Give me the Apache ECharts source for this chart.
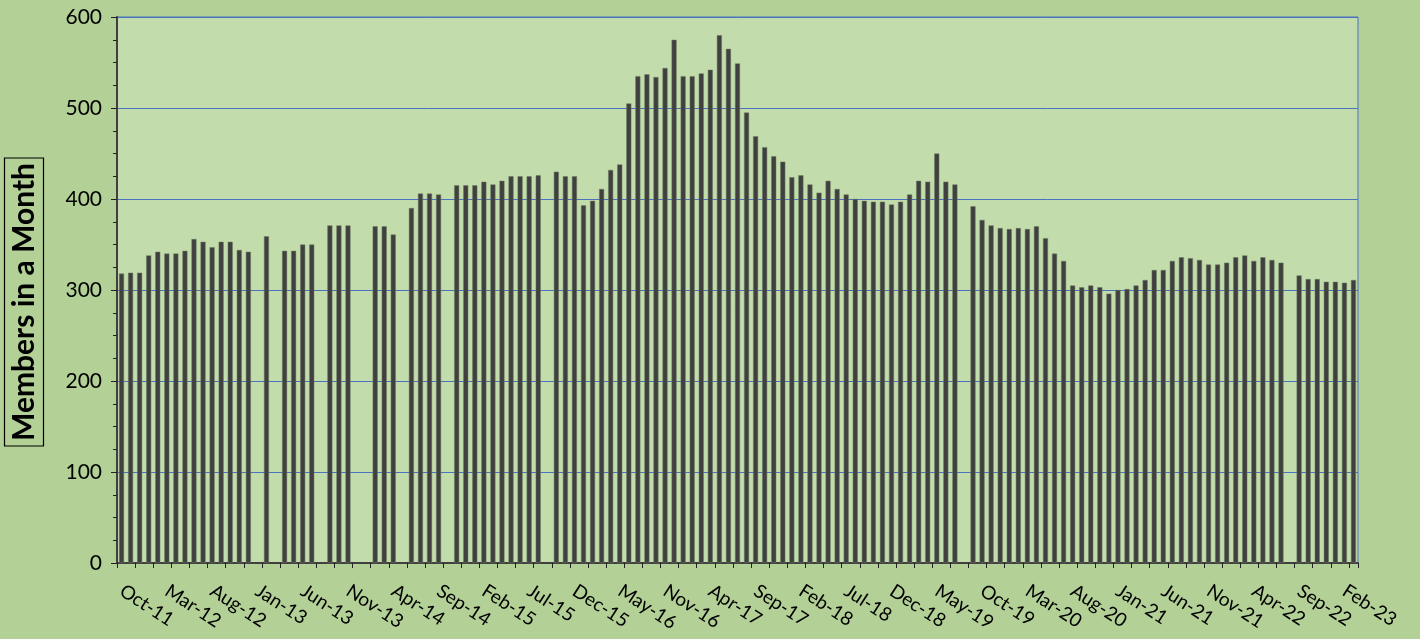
<!DOCTYPE html>
<html>
<head>
<meta charset="utf-8">
<script src="https://cdn.jsdelivr.net/npm/echarts@6/dist/echarts.min.js"></script>
<style>
  html, body { margin: 0; padding: 0; background: #b3d097; }
  #chart { width: 1420px; height: 639px; }
</style>
</head>
<body>
<div id="chart"></div>
<script>
// month labels as they appear in the sheet (one month of 2016 is absent, Mar-23 is the last row)
var months = [
  "Oct-11","Nov-11","Dec-11",
  "Jan-12","Feb-12","Mar-12","Apr-12","May-12","Jun-12","Jul-12","Aug-12","Sep-12","Oct-12","Nov-12","Dec-12",
  "Jan-13","Feb-13","Mar-13","Apr-13","May-13","Jun-13","Jul-13","Aug-13","Sep-13","Oct-13","Nov-13","Dec-13",
  "Jan-14","Feb-14","Mar-14","Apr-14","May-14","Jun-14","Jul-14","Aug-14","Sep-14","Oct-14","Nov-14","Dec-14",
  "Jan-15","Feb-15","Mar-15","Apr-15","May-15","Jun-15","Jul-15","Aug-15","Sep-15","Oct-15","Nov-15","Dec-15",
  "Jan-16","Feb-16","Mar-16","Apr-16","May-16","Jun-16","Jul-16","Aug-16","Sep-16","Nov-16","Dec-16",
  "Jan-17","Feb-17","Mar-17","Apr-17","May-17","Jun-17","Jul-17","Aug-17","Sep-17","Oct-17","Nov-17","Dec-17",
  "Jan-18","Feb-18","Mar-18","Apr-18","May-18","Jun-18","Jul-18","Aug-18","Sep-18","Oct-18","Nov-18","Dec-18",
  "Jan-19","Feb-19","Mar-19","Apr-19","May-19","Jun-19","Jul-19","Aug-19","Sep-19","Oct-19","Nov-19","Dec-19",
  "Jan-20","Feb-20","Mar-20","Apr-20","May-20","Jun-20","Jul-20","Aug-20","Sep-20","Oct-20","Nov-20","Dec-20",
  "Jan-21","Feb-21","Mar-21","Apr-21","May-21","Jun-21","Jul-21","Aug-21","Sep-21","Oct-21","Nov-21","Dec-21",
  "Jan-22","Feb-22","Mar-22","Apr-22","May-22","Jun-22","Jul-22","Aug-22","Sep-22","Oct-22","Nov-22","Dec-22",
  "Jan-23","Feb-23","Mar-23"
];

// members per month, null = no figure for that month
var members = [
  318, 319, 319,
  338, 342, 340, 340, 343, 356, 353, 347, 353, 353, 344, 342,
  null, 359, null, 343, 343, 350, 350, null, 371, 371, 371, null,
  null, 370, 370, 361, null, 390, 406, 406, 405, null, 415, 415,
  415, 419, 416, 420, 425, 425, 425, 426, null, 430, 425, 425,
  393, 398, 411, 432, 438, 505, 535, 537, 534, 544, 575,
  535, 535, 538, 542, 580, 565, 549, 495, 469, 457, 447, 441,
  424, 426, 416, 407, 420, 411, 405, 400, 398, 397, 397, 394,
  397, 405, 420, 419, 450, 419, 416, null, 392, 377, 371, 368,
  367, 368, 367, 370, 357, 340, 332, 305, 303, 305, 303, 296,
  300, 301, 305, 311, 322, 322, 332, 336, 335, 333, 328, 328,
  330, 336, 338, 332, 336, 333, 330, null, 316, 312, 312, 309,
  309, 308, 311
];

var yTicks = [0, 100, 200, 300, 400, 500, 600];
var yTitle = 'Members in a Month';

var chart = echarts.init(document.getElementById('chart'));

var option = {
  backgroundColor: '#b3d097',
  animation: false,
  textStyle: { fontFamily: 'Lato, sans-serif', color: '#000' },
  grid: {
    left: 117, right: 62, top: 17, bottom: 76,
    outerBoundsMode: 'none',
    containLabel: false,
    show: true,
    backgroundColor: '#c3dcab',
    borderColor: '#4a72c0',
    borderWidth: 1
  },
  // boxed axis title, sits a bit below the plot's middle like the original
  graphic: [{
    type: 'text',
    x: 24,
    y: 302,
    rotation: Math.PI / 2,
    style: {
      text: yTitle,
      font: 'bold 30px Lato, sans-serif',
      fill: '#000',
      align: 'center',
      verticalAlign: 'middle',
      stroke: null,
      borderColor: '#000',
      borderWidth: 1.2,
      padding: [6, 5, 3, 5]
    }
  }],
  xAxis: {
    type: 'category',
    data: months,
    boundaryGap: true,
    axisLine: { lineStyle: { color: '#404040', width: 2 } },
    axisTick: { show: true, interval: 1, length: 5, lineStyle: { color: '#222' } },
    axisLabel: {
      interval: 4,
      rotate: -33,
      fontSize: 19,
      color: '#000',
      margin: 26
    },
    splitLine: { show: false }
  },
  yAxis: {
    type: 'value',
    min: yTicks[0],
    max: yTicks[yTicks.length - 1],
    interval: 100,
    axisLine: { show: true, lineStyle: { color: '#404040', width: 2 } },
    axisTick: { show: true, length: 6, lineStyle: { color: '#222' } },
    minorTick: { show: true, splitNumber: 4, length: 4, lineStyle: { color: '#222' } },
    axisLabel: { fontSize: 21, color: '#000', margin: 15 },
    splitLine: { show: true, lineStyle: { color: '#4a72c0', width: 1 } }
  },
  series: [{
    type: 'bar',
    data: members,
    barWidth: 5,
    itemStyle: { color: '#404040', borderColor: '#6b7a5e', borderWidth: 0.5 }
  }]
};

chart.setOption(option);
</script>
</body>
</html>
